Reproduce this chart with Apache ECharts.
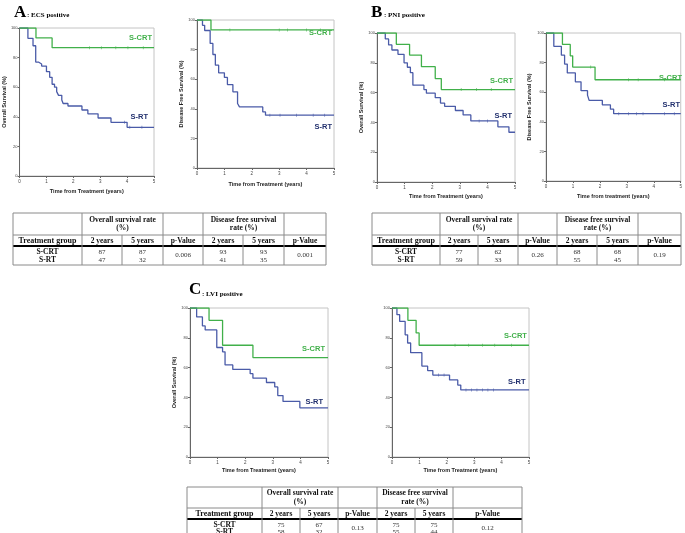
<!DOCTYPE html>
<html><head><meta charset="utf-8">
<script src="https://cdn.jsdelivr.net/npm/echarts/dist/echarts.min.js"></script>
<style>html,body{margin:0;padding:0;background:#fff}#c{width:685px;height:533px}</style>
</head><body><div id="c"></div><script>
// ---------- data ----------
const yearTicks = [0, 1, 2, 3, 4, 5];
const pctTicks = [0, 20, 40, 60, 80, 100];
const groupNames = ['S-CRT', 'S-RT'];
const colHeads = ['Treatment group', '2 years', '5 years', 'p-Value', '2 years', '5 years', 'p-Value'];

// Panel A (ECS positive)
const aOsCrt = [[0,100],[0.61,93.3],[1.21,86.7],[5,86.7]];
const aOsRt = [[0,100],[0.31,93],[0.5,88],[0.6,77],[0.7,75.7],[0.82,74.3],[1.0,70.5],[1.12,66.7],[1.21,62],[1.3,60],[1.38,57],[1.45,54.5],[1.57,51.4],[1.62,49],[1.8,47.3],[2.32,44.6],[2.54,42],[2.92,39.2],[3.4,36.3],[4.0,32.9],[5,32.9]];
const aOsCrtCens = [2.6, 3.04, 3.58, 4.03, 4.6];
const aOsRtCens = [3.9, 4.1, 4.55];
const aDfsCrt = [[0,100],[0.51,93.3],[5,93.3]];
const aDfsRt = [[0,100],[0.2,96.4],[0.28,92.9],[0.48,84.2],[0.58,76.7],[0.67,69.5],[0.79,64.3],[1.0,61.2],[1.11,56.4],[1.31,51.5],[1.48,43.6],[1.55,41.3],[2.4,37.9],[2.5,35.7],[5,35.7]];
const aDfsCrtCens = [1.2, 3.0, 3.3, 4.0, 4.5];
const aDfsRtCens = [2.66, 3.03, 3.63, 4.24, 4.66];

// Panel B (PNI positive)
const bOsCrt = [[0,100],[0.7,92.4],[1.18,85.2],[1.61,77.4],[2.11,69.4],[2.33,62],[5,62]];
const bOsRt = [[0,100],[0.3,96],[0.42,92],[0.54,88.6],[0.76,85.7],[0.98,80],[1.1,77],[1.21,73.4],[1.3,65],[1.7,62],[1.79,59.6],[2.11,56.6],[2.3,53],[2.45,50.8],[2.84,48],[3.12,45],[3.4,41],[4.38,37],[4.78,33.4],[5,33.4]];
const bOsCrtCens = [3.05, 3.6, 4.14];
const bOsRtCens = [3.7, 4.0];
const bDfsCrt = [[0,100],[0.61,92.3],[0.9,84.6],[0.99,77],[1.82,68.4],[5,68.4]];
const bDfsRt = [[0,100],[0.29,91],[0.57,85],[0.69,79],[0.79,73],[1.09,67],[1.3,61],[1.54,58],[1.6,54.5],[2.09,51.5],[2.39,48.5],[2.51,45.5],[5,45.5]];
const bDfsCrtCens = [1.66, 3.06, 3.42, 4.4];
const bDfsRtCens = [2.7, 3.06, 3.36, 3.6, 4.4, 4.76];

// Panel C (LVI positive)
const cOsCrt = [[0,100],[0.69,91.7],[1.18,75],[2.28,66.7],[5,66.7]];
const cOsRt = [[0,100],[0.24,94],[0.45,88],[0.55,85.3],[0.97,73.5],[1.18,70.6],[1.27,61.8],[1.55,58.8],[2.18,55.9],[2.28,52.9],[2.77,50],[3.07,47],[3.18,41.2],[3.37,37.3],[3.98,33],[5,33]];
const cOsCrtCens = [];
const cOsRtCens = [];
const cDfsCrt = [[0,100],[0.58,91.7],[0.88,83.3],[0.99,75],[5,75]];
const cDfsRt = [[0,100],[0.18,95.5],[0.28,91],[0.48,82],[0.57,76.5],[0.68,70],[1.09,61],[1.3,58],[1.49,55],[2.1,51.7],[2.4,48.3],[2.51,45],[5,45]];
const cDfsCrtCens = [2.3, 2.8, 3.3, 3.75, 4.36];
const cDfsRtCens = [1.7, 1.9, 2.7, 2.9, 3.1, 3.3, 3.5, 3.7];

// Tables
const tableA_vals = [['87','87','93','93'],['47','32','41','35']];
const tableA_p = ['0.006','0.001'];
const tableB_vals = [['77','62','68','68'],['59','33','55','45']];
const tableB_p = ['0.26','0.19'];
const tableC_vals = [['75','67','75','75'],['58','32','55','44']];
const tableC_p = ['0.13','0.12'];

// ---------- styles ----------
const GREEN = '#41b04a', BLUE = '#4a5ba8', NAVY = '#22306e';
const SANS = '"Liberation Sans", Arial, sans-serif';
const SERIF = '"Liberation Serif", "Times New Roman", serif';

const panels = [
  {grid:{left:16, top:28, width:138, height:148}, xName:'Time from Treatment (years)', xGap:12, yName:'Overall Survival (%)', yGap:11, crt:aOsCrt, rt:aOsRt, crtC:aOsCrtCens, rtC:aOsRtCens},
  {grid:{left:197, top:20, width:137, height:148}, xName:'Time from Treatment (years)', xGap:13, yName:'Disease Free Survival (%)', yGap:13, crt:aDfsCrt, rt:aDfsRt, crtC:aDfsCrtCens, rtC:aDfsRtCens},
  {grid:{left:377, top:33, width:138, height:149}, xName:'Time from Treatment (years)', xGap:11, yName:'Overall Survival (%)', yGap:10, crt:bOsCrt, rt:bOsRt, crtC:bOsCrtCens, rtC:bOsRtCens},
  {grid:{left:546, top:33, width:137, height:148}, xName:'Time from treatment (years)', xGap:12, yName:'Disease Free Survival (%)', yGap:14, crt:bDfsCrt, rt:bDfsRt, crtC:bDfsCrtCens, rtC:bDfsRtCens},
  {grid:{left:190, top:308, width:138, height:149}, xName:'Time from Treatment (years)', xGap:10, yName:'Overall Survival (%)', yGap:13, crt:cOsCrt, rt:cOsRt, crtC:cOsCrtCens, rtC:cOsRtCens},
  {grid:{left:392, top:308, width:137, height:149}, xName:'Time from Treatment (years)', xGap:10, yName:'', yGap:13, crt:cDfsCrt, rt:cDfsRt, crtC:cDfsCrtCens, rtC:cDfsRtCens}
];

function stepValue(curve, t) {
  let v = curve[0][1];
  for (const p of curve) { if (p[0] <= t) v = p[1]; }
  return v;
}

const grids = [], xAxes = [], yAxes = [], series = [];
panels.forEach((p, i) => {
  grids.push(Object.assign({show:true, borderColor:'#c4c4c4', borderWidth:1, backgroundColor:'#fff'}, p.grid));
  xAxes.push({gridIndex:i, type:'value', min:yearTicks[0], max:yearTicks[yearTicks.length-1], interval:1,
    name:p.xName, nameLocation:'middle', nameGap:p.xGap,
    nameTextStyle:{fontSize:5.5, fontWeight:'bold', fontFamily:SANS, color:'#222'},
    axisLine:{show:true, onZero:false, lineStyle:{color:'#666', width:1}},
    axisTick:{show:true, length:2, lineStyle:{color:'#666'}},
    axisLabel:{fontSize:4.5, color:'#444', margin:3, fontFamily:SANS},
    splitLine:{show:false}});
  yAxes.push({gridIndex:i, type:'value', min:pctTicks[0], max:pctTicks[pctTicks.length-1], interval:20,
    name:p.yName, nameLocation:'middle', nameGap:p.yGap, nameRotate:90,
    nameTextStyle:{fontSize:5.5, fontWeight:'bold', fontFamily:SANS, color:'#222'},
    axisLine:{show:true, onZero:false, lineStyle:{color:'#666', width:1}},
    axisTick:{show:true, length:2, lineStyle:{color:'#666'}},
    axisLabel:{fontSize:4, color:'#444', margin:2, fontFamily:SANS},
    splitLine:{show:false}});
  series.push({type:'line', xAxisIndex:i, yAxisIndex:i, step:'end', data:p.rt, symbol:'none',
    lineStyle:{color:BLUE, width:1.3}, silent:true, animation:false});
  series.push({type:'line', xAxisIndex:i, yAxisIndex:i, step:'end', data:p.crt, symbol:'none',
    lineStyle:{color:GREEN, width:1.3}, silent:true, animation:false});
  series.push({type:'scatter', xAxisIndex:i, yAxisIndex:i, data:p.rtC.map(t => [t, stepValue(p.rt, t)]),
    symbol:'rect', symbolSize:[0.7, 3], itemStyle:{color:BLUE}, silent:true, animation:false});
  series.push({type:'scatter', xAxisIndex:i, yAxisIndex:i, data:p.crtC.map(t => [t, stepValue(p.crt, t)]),
    symbol:'rect', symbolSize:[0.7, 3], itemStyle:{color:GREEN}, silent:true, animation:false});
});

// ---------- graphics: titles, series labels, tables ----------
const g = [];
function txt(text, x, y, font, fill, align, valign) {
  g.push({type:'text', silent:true, z:100, style:{text, x, y, font, fill:fill || '#000',
    textAlign:align || 'left', textVerticalAlign:valign || 'middle'}});
}
function ln(x1, y1, x2, y2, color, w) {
  g.push({type:'line', silent:true, z:100, shape:{x1, y1, x2, y2}, style:{stroke:color, lineWidth:w}});
}

// panel titles
txt('A', 14, 13, 'bold 17px ' + SERIF, '#000', 'left', 'middle');
txt(': ECS positive', 27, 15, 'bold 7px ' + SERIF, '#000', 'left', 'middle');
txt('B', 371, 13, 'bold 17px ' + SERIF, '#000', 'left', 'middle');
txt(': PNI positive', 384, 15, 'bold 7px ' + SERIF, '#000', 'left', 'middle');
txt('C', 189, 290, 'bold 17px ' + SERIF, '#000', 'left', 'middle');
txt(': LVI positive', 202, 294, 'bold 7px ' + SERIF, '#000', 'left', 'middle');

// series labels
const LF = 'bold 7.5px ' + SANS;
txt(groupNames[0], 152, 38, LF, GREEN, 'right');
txt(groupNames[1], 148, 117, LF, NAVY, 'right');
txt(groupNames[0], 332, 33, LF, GREEN, 'right');
txt(groupNames[1], 332, 127, LF, NAVY, 'right');
txt(groupNames[0], 513, 81, LF, GREEN, 'right');
txt(groupNames[1], 512, 116, LF, NAVY, 'right');
txt(groupNames[0], 682, 78, LF, GREEN, 'right');
txt(groupNames[1], 680, 105, LF, NAVY, 'right');
txt(groupNames[0], 325, 349, LF, GREEN, 'right');
txt(groupNames[1], 323, 402, LF, NAVY, 'right');
txt(groupNames[0], 504, 336, LF, GREEN, 'left');
txt(groupNames[1], 508, 382, LF, NAVY, 'left');

function table(x0, widths, yTop, yMid, yThick, yBot, vals, pv) {
  const xs = [x0];
  widths.forEach(w => xs.push(xs[xs.length-1] + w));
  const xR = xs[xs.length-1];
  const LC = '#8a8a8a';
  ln(x0, yTop, xR, yTop, LC, 1);
  ln(x0, yMid, xR, yMid, LC, 1);
  ln(x0, yThick, xR, yThick, '#000', 2);
  ln(x0, yBot, xR, yBot, LC, 1);
  [0, 1, 3, 4, 6, 7].forEach(k => ln(xs[k], yTop, xs[k], yBot, LC, 1));
  [2, 5].forEach(k => ln(xs[k], yMid, xs[k], yBot, LC, 1));
  const HF = 'bold 7.5px ' + SERIF, VF = '7px ' + SERIF;
  const cx = k => (xs[k] + xs[k+1]) / 2;
  const hy = (yTop + yMid) / 2;
  txt('Overall survival rate', (xs[1] + xs[3]) / 2, hy - 4, HF, '#111', 'center');
  txt('(%)', (xs[1] + xs[3]) / 2, hy + 4.5, HF, '#111', 'center');
  txt('Disease free survival', (xs[4] + xs[6]) / 2, hy - 4, HF, '#111', 'center');
  txt('rate (%)', (xs[4] + xs[6]) / 2, hy + 4.5, HF, '#111', 'center');
  const ry = (yMid + yThick) / 2 + 0.5;
  colHeads.forEach((h, k) => txt(h, cx(k), ry, k === 0 ? 'bold 8px ' + SERIF : HF, '#111', 'center'));
  const r1 = yThick + (yBot - yThick) * 0.32, r2 = yThick + (yBot - yThick) * 0.74;
  const rm = (yThick + yBot) / 2;
  [r1, r2].forEach((ry2, r) => {
    txt(groupNames[r], cx(0), ry2, HF, '#111', 'center');
    txt(vals[r][0], cx(1), ry2, VF, '#333', 'center');
    txt(vals[r][1], cx(2), ry2, VF, '#333', 'center');
    txt(vals[r][2], cx(4), ry2, VF, '#333', 'center');
    txt(vals[r][3], cx(5), ry2, VF, '#333', 'center');
  });
  txt(pv[0], cx(3), rm, VF, '#333', 'center');
  txt(pv[1], cx(6), rm, VF, '#333', 'center');
}
table(13, [69, 40, 41, 40, 40, 41, 42], 213, 235, 246, 265, tableA_vals, tableA_p);
table(372, [68, 38, 40, 39, 40, 41, 43], 213, 235, 246, 265, tableB_vals, tableB_p);
table(187, [75, 38, 38, 39, 38, 38, 69], 487, 508, 519, 537, tableC_vals, tableC_p);

const chart = echarts.init(document.getElementById('c'), null, {renderer:'canvas'});
chart.setOption({
  animation:false,
  backgroundColor:'#fff',
  grid:grids, xAxis:xAxes, yAxis:yAxes, series:series, graphic:{elements:g}
});
</script></body></html>
